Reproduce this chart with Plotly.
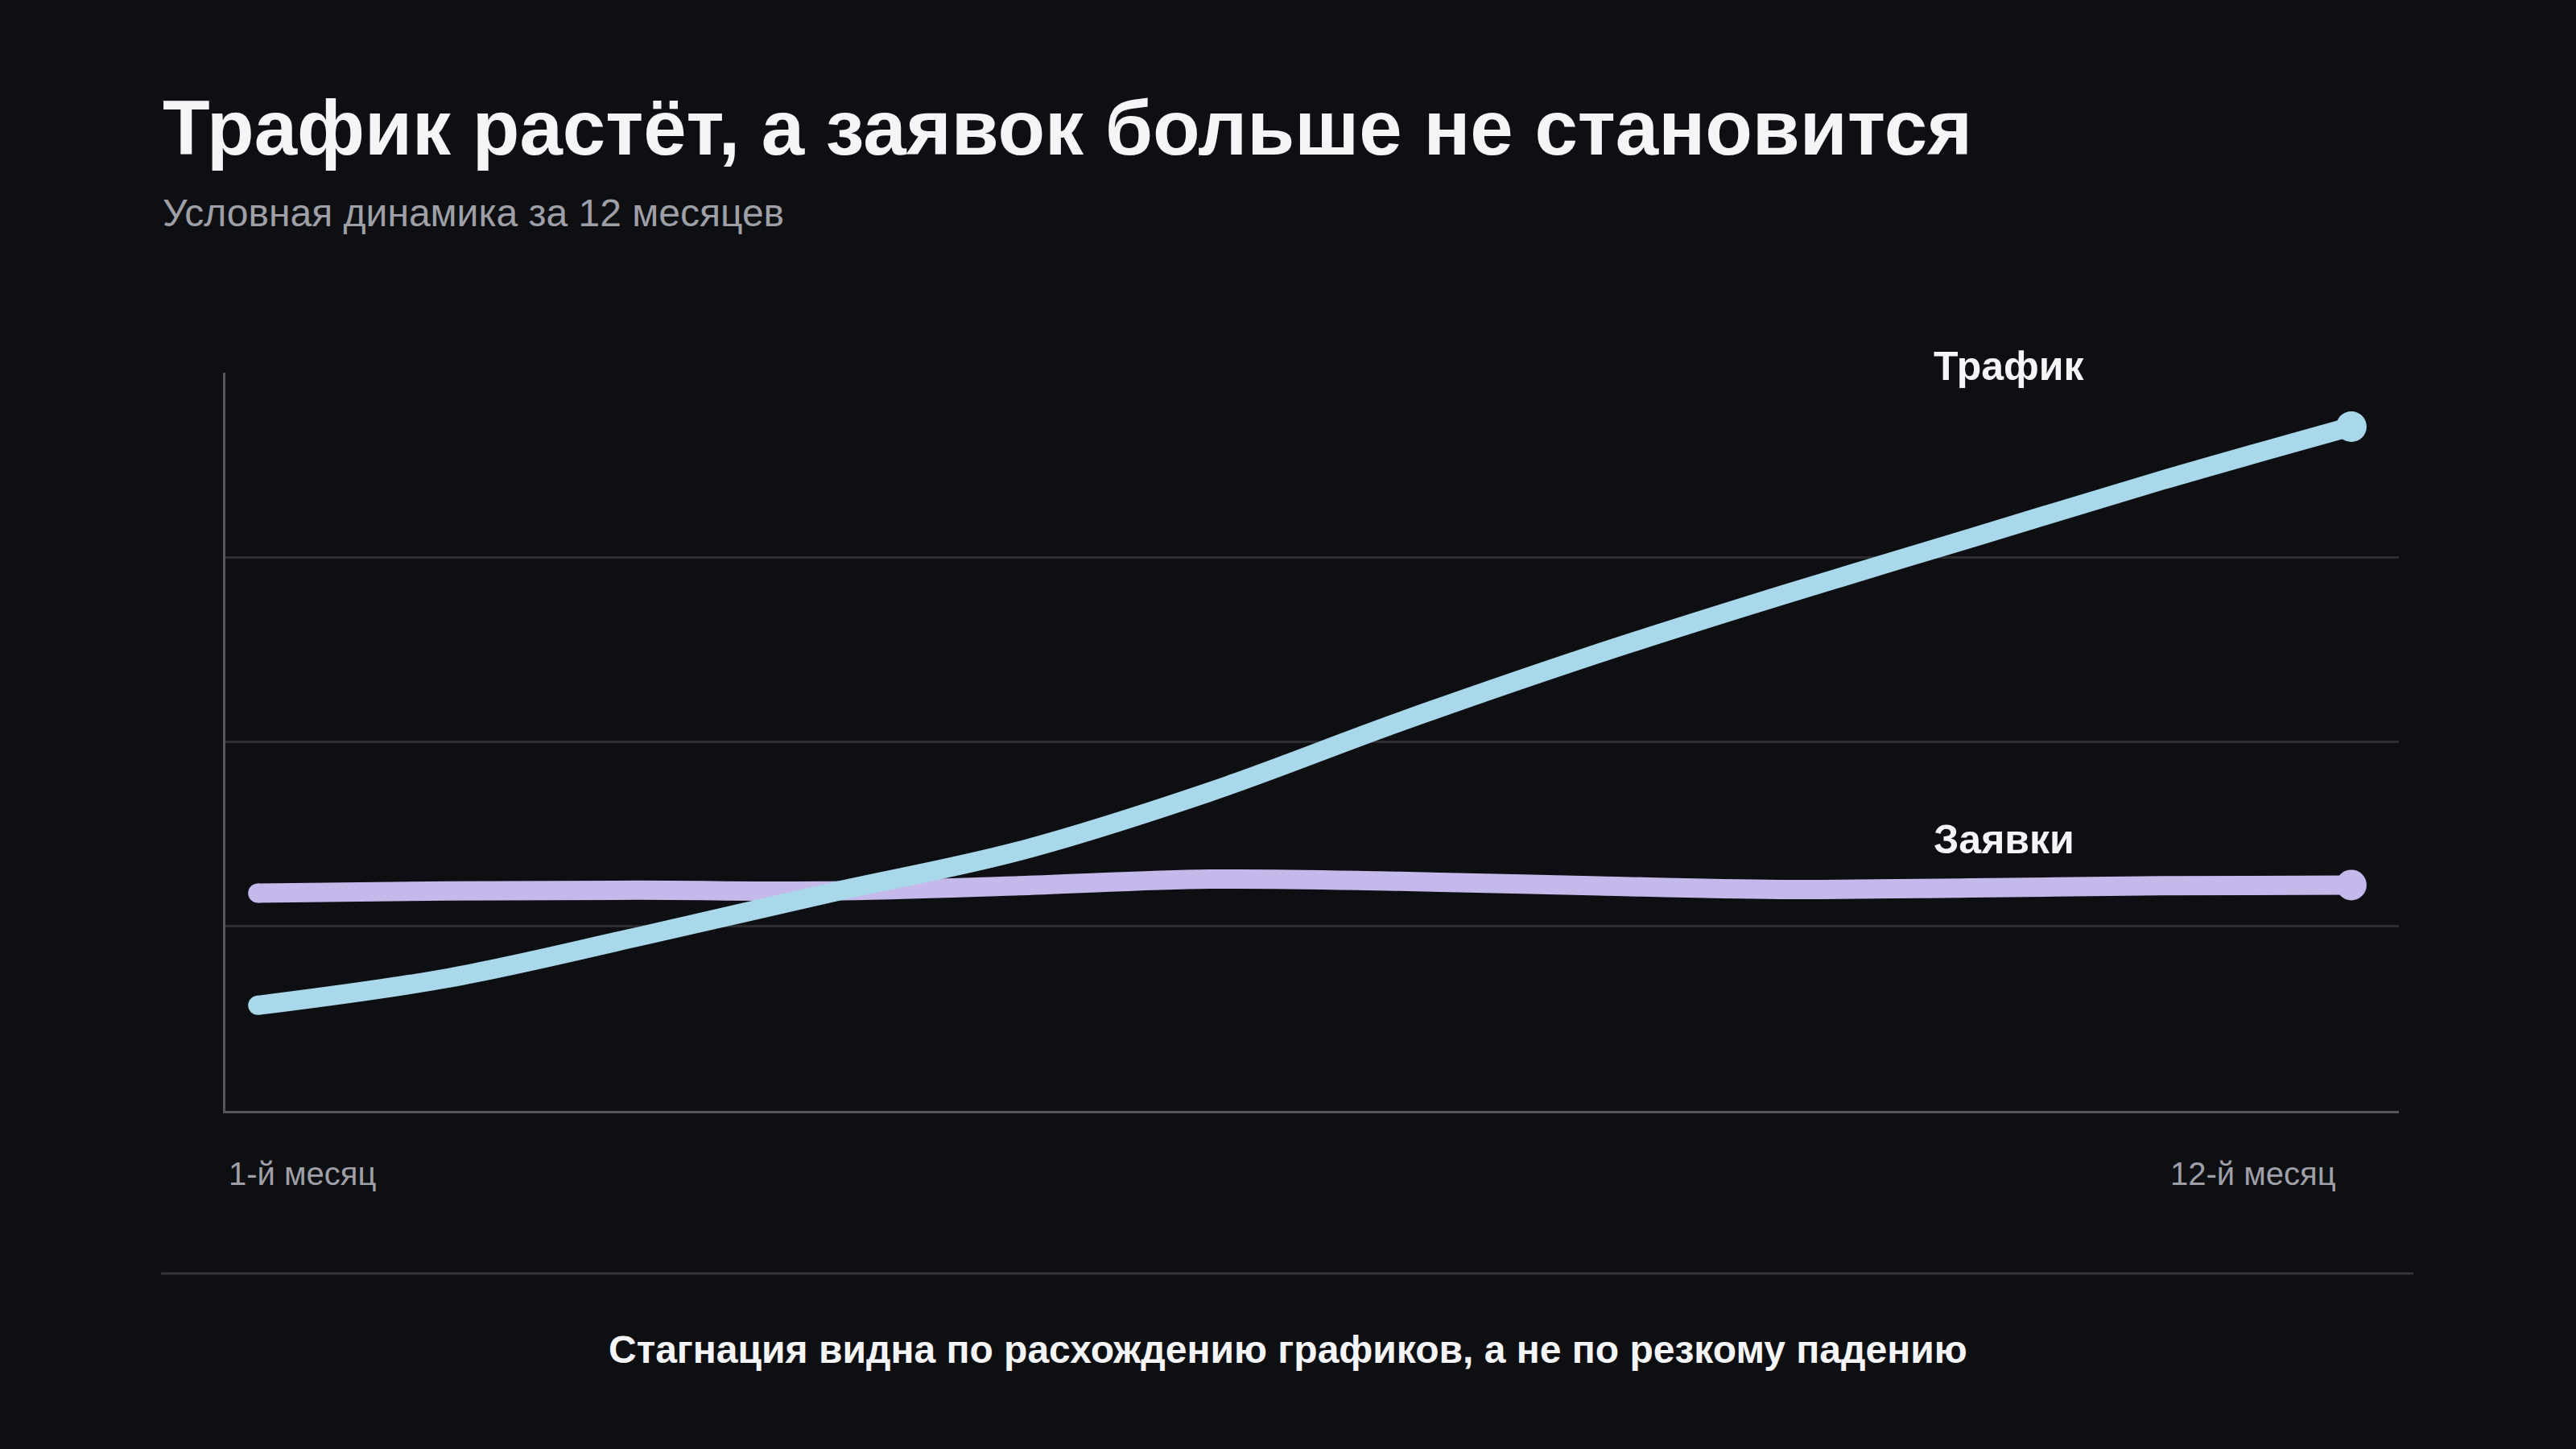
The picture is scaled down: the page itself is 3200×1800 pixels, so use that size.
import plotly.graph_objects as go

# data (conditional index, 0-100)
months = list(range(1, 13))
traffic = [14.3, 18.0, 23.6, 29.5, 35.2, 43.2, 52.7, 61.6, 69.8, 77.6, 85.4, 92.7]
leads = [29.5, 29.8, 29.9, 29.8, 30.5, 31.4, 31.1, 30.5, 30.0, 30.2, 30.5, 30.6]
x_labels = ["1-й месяц", "12-й месяц"]

BG = "#0e0f13"
FONT = "Liberation Sans, Arial, sans-serif"
TRAFFIC_C = "#a9d8ea"
LEADS_C = "#c5b8ea"

end_sizes = [24] + [0] * 10 + [38]

fig = go.Figure()
fig.add_trace(go.Scatter(
    x=months, y=leads, mode="lines+markers", name="Заявки",
    line=dict(color=LEADS_C, width=24, shape="spline", smoothing=1),
    marker=dict(color=LEADS_C, size=end_sizes, opacity=1, line=dict(width=0)),
    hoverinfo="skip"))
fig.add_trace(go.Scatter(
    x=months, y=traffic, mode="lines+markers", name="Трафик",
    line=dict(color=TRAFFIC_C, width=24, shape="spline", smoothing=1),
    marker=dict(color=TRAFFIC_C, size=end_sizes, opacity=1, line=dict(width=0)),
    hoverinfo="skip"))

fig.update_layout(
    width=3200, height=1800,
    paper_bgcolor=BG, plot_bgcolor=BG,
    margin=dict(l=280, r=220, t=463, b=420),
    showlegend=False,
    font=dict(family=FONT, color="#ffffff"),
    xaxis=dict(range=[0.83, 12.25], showgrid=False, zeroline=False,
               showticklabels=False, ticks="", showline=True,
               linecolor="#55565c", linewidth=3),
    yaxis=dict(range=[0, 100], tickvals=[25, 50, 75], showgrid=True,
               gridcolor="#2b2d31", gridwidth=3, zeroline=False,
               showticklabels=False, ticks="", showline=True,
               linecolor="#55565c", linewidth=3),
)

ann = []
ann.append(dict(text="<b>Трафик растёт, а заявок больше не становится</b>",
                x=-0.0296, y=1.332, xanchor="left", yanchor="middle",
                font=dict(size=96, color="#f5f5f7")))
ann.append(dict(text="Условная динамика за 12 месяцев",
                x=-0.0296, y=1.216, xanchor="left", yanchor="middle",
                font=dict(size=48, color="#9fa0a7")))
ann.append(dict(text="<b>Трафик</b>", x=0.785, y=1.009,
                xanchor="left", yanchor="middle",
                font=dict(size=50, color="#f5f5f7")))
ann.append(dict(text="<b>Заявки</b>", x=0.785, y=0.3675,
                xanchor="left", yanchor="middle",
                font=dict(size=50, color="#f5f5f7")))
ann.append(dict(text=x_labels[0], x=0.0007, y=-0.085,
                xanchor="left", yanchor="middle",
                font=dict(size=40, color="#9fa0a7")))
ann.append(dict(text=x_labels[1], x=0.9719, y=-0.085,
                xanchor="right", yanchor="middle",
                font=dict(size=40, color="#9fa0a7")))
ann.append(dict(text="<b>Стагнация видна по расхождению графиков, а не по резкому падению</b>",
                x=0.4889, y=-0.3228, xanchor="center", yanchor="middle",
                font=dict(size=48, color="#f5f5f7")))
for a in ann:
    a.update(xref="paper", yref="paper", showarrow=False)
fig.update_layout(annotations=ann)

fig.add_shape(type="line", xref="paper", yref="paper",
              x0=-0.0296, x1=1.0067, y0=-0.2203, y1=-0.2203,
              line=dict(color="#333539", width=3))

# drop the default page margin so the figure fills the window, no modebar
fig.write_html("out.html",
               config={"displayModeBar": False},
               post_script="document.body.style.margin='0';"
                           "document.body.style.background='#0e0f13';")
